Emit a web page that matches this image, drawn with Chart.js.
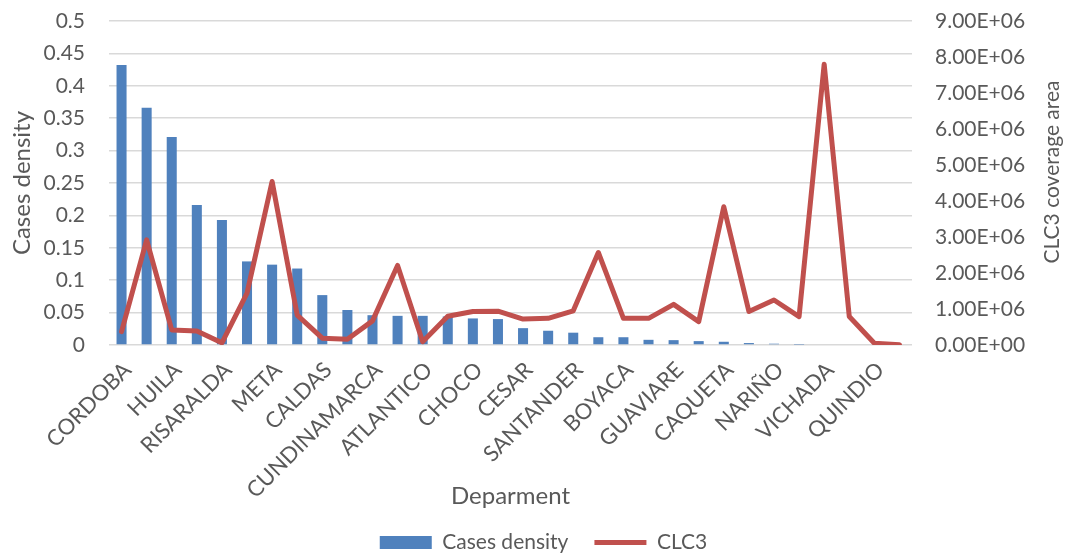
<!DOCTYPE html>
<html>
<head>
<meta charset="utf-8">
<script src="https://cdn.jsdelivr.net/npm/chart.js@4.4.1/dist/chart.umd.min.js"></script>
<style>
  html, body { margin: 0; padding: 0; background: #fff; }
  #wrap { width: 1067px; height: 556px; position: relative; }
</style>
</head>
<body>
<div id="wrap"><canvas id="chart"></canvas></div>
<script>
// departments, ordered by case density (every other name is printed on the axis)
const DEPARTMENTS = [
  'CORDOBA', 'ANTIOQUIA', 'HUILA', 'TOLIMA', 'RISARALDA', 'VALLE DEL CAUCA',
  'META', 'CASANARE', 'CALDAS', 'SUCRE', 'CUNDINAMARCA', 'BOLIVAR',
  'ATLANTICO', 'MAGDALENA', 'CHOCO', 'CAUCA', 'CESAR', 'LA GUAJIRA',
  'SANTANDER', 'NORTE DE SANTANDER', 'BOYACA', 'ARAUCA', 'GUAVIARE', 'PUTUMAYO',
  'CAQUETA', 'AMAZONAS', 'NARIÑO', 'GUAINIA', 'VICHADA', 'VAUPES',
  'QUINDIO', 'SAN ANDRES'
];

const CASES_DENSITY = [
  0.432, 0.366, 0.321, 0.216, 0.193, 0.129, 0.124, 0.118,
  0.077, 0.054, 0.046, 0.045, 0.045, 0.044, 0.041, 0.040,
  0.026, 0.022, 0.019, 0.012, 0.012, 0.008, 0.0075, 0.006,
  0.005, 0.003, 0.002, 0.0005, 0, 0, 0, 0
];

const CLC3_AREA = [
  370000, 2920000, 420000, 390000, 60000, 1440000, 4540000, 830000,
  190000, 160000, 670000, 2210000, 90000, 800000, 930000, 940000,
  720000, 740000, 950000, 2570000, 740000, 740000, 1130000, 650000,
  3840000, 930000, 1250000, 790000, 7800000, 790000, 50000, 10000
];

const DENSITY_TICKS = [0, 0.05, 0.1, 0.15, 0.2, 0.25, 0.3, 0.35, 0.4, 0.45, 0.5];
const AREA_TICKS = [0, 1e6, 2e6, 3e6, 4e6, 5e6, 6e6, 7e6, 8e6, 9e6];

const BLUE = '#4f81bd';
const RED  = '#c0504d';
const TEXT = '#595959';
const GRID = '#d9d9d9';
const FONT = 'Lato';

// Excel style scientific labels: 1.00E+06
function fmtSci(v) {
  if (v === 0) return '0.00E+00';
  const exp = Math.floor(Math.log10(Math.abs(v)));
  const mant = (v / Math.pow(10, exp)).toFixed(2);
  return mant + 'E' + (exp < 0 ? '-' : '+') + String(Math.abs(exp)).padStart(2, '0');
}

// right axis title reads bottom-to-top, same as the left one
const rightTitle = {
  id: 'rightTitle',
  afterDraw(chart, args, opts) {
    const { ctx, chartArea } = chart;
    ctx.save();
    ctx.translate(opts.x, (chartArea.top + chartArea.bottom) / 2 + opts.dy);
    ctx.rotate(-Math.PI / 2);
    ctx.font = `${opts.size}px ${FONT}`;
    ctx.fillStyle = TEXT;
    ctx.textAlign = 'center';
    ctx.textBaseline = 'middle';
    ctx.fillText(opts.text, 0, 0);
    ctx.restore();
  }
};

// push the legend row a little to the right of the canvas centre
const legendNudge = {
  id: 'legendNudge',
  afterLayout(chart, args, opts) {
    const lg = chart.legend;
    if (lg) { lg.left += opts.dx; lg.right += opts.dx; }
  }
};

new Chart(document.getElementById('chart'), {
  type: 'bar',
  data: {
    labels: DEPARTMENTS,
    datasets: [
      {
        type: 'bar', label: 'Cases density', data: CASES_DENSITY, yAxisID: 'y',
        backgroundColor: BLUE, borderWidth: 0, order: 1, pointStyle: 'rect',
        categoryPercentage: 1, barPercentage: 0.4,
      },
      {
        type: 'line', label: 'CLC3', data: CLC3_AREA, yAxisID: 'y1',
        borderColor: RED, backgroundColor: RED, borderWidth: 5, order: 0,
        pointRadius: 0, pointStyle: 'line', tension: 0,
        borderJoinStyle: 'round', borderCapStyle: 'round',
      },
    ],
  },
  plugins: [rightTitle, legendNudge],
  options: {
    responsive: true, maintainAspectRatio: false, animation: false,
    layout: { padding: { top: 21, left: 0, right: 0, bottom: -7 } },
    plugins: {
      legend: {
        position: 'bottom',
        labels: {
          usePointStyle: true, pointStyleWidth: 52, boxHeight: 13,
          padding: 26, color: TEXT, font: { family: FONT, size: 21 },
          sort: (a, b) => a.datasetIndex - b.datasetIndex,
        },
      },
      tooltip: { enabled: false },
      rightTitle: { text: 'CLC3 coverage area', x: 1052, dy: -11, size: 21 },
      legendNudge: { dx: 10 },
    },
    scales: {
      x: {
        grid: { display: false }, border: { display: false },
        afterFit: s => { s.height = 161; },
        ticks: {
          autoSkip: false, maxRotation: 45, minRotation: 45, padding: 4, labelOffset: 6,
          color: TEXT, font: { family: FONT, size: 22 },
          callback: (v, i) => (i % 2 === 0 ? DEPARTMENTS[i] : ''),
        },
        title: {
          display: true, text: 'Deparment', color: TEXT,
          font: { family: FONT, size: 24 }, padding: { top: 0, bottom: -5 },
        },
      },
      y: {
        position: 'left', min: 0, max: 0.5,
        afterFit: s => { s.width = 109; },
        afterBuildTicks: s => { s.ticks = DENSITY_TICKS.map(v => ({ value: v })); },
        grid: { color: GRID, lineWidth: 1.5, tickLength: 16, tickColor: 'rgba(0,0,0,0)' },
        border: { display: false },
        ticks: {
          padding: 8, color: TEXT, font: { family: FONT, size: 21 },
          callback: v => String(+v.toFixed(2)),
        },
        title: {
          display: true, text: 'Cases density', color: TEXT,
          font: { family: FONT, size: 24 }, padding: { top: 8, bottom: 0 },
        },
      },
      y1: {
        position: 'right', min: 0, max: 9e6,
        afterFit: s => { s.width = 155; },
        afterBuildTicks: s => { s.ticks = AREA_TICKS.map(v => ({ value: v })); },
        grid: { drawOnChartArea: false, tickLength: 15, tickColor: 'rgba(0,0,0,0)' },
        border: { display: false },
        ticks: {
          padding: 8, color: TEXT, font: { family: FONT, size: 21 },
          callback: v => fmtSci(v),
        },
      },
    },
  },
});
</script>
</body>
</html>
